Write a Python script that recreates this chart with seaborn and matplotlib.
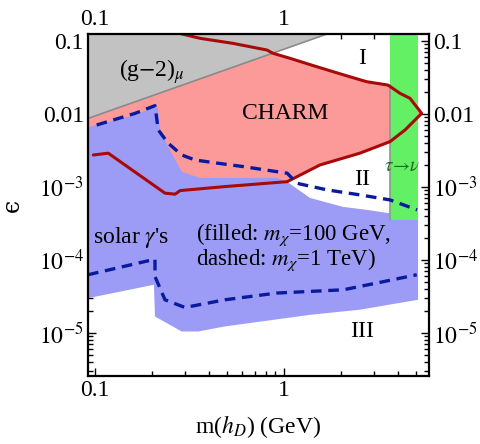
import numpy as np
import pandas as pd
import matplotlib
matplotlib.use("Agg")
import matplotlib.pyplot as plt
import seaborn as sns

# ---------------- data ----------------
# CHARM exclusion contour (dark red), lower branch then upper branch
charm_x = [0.098, 0.1175, 0.2346, 0.265, 0.282, 0.487, 1.04, 1.55, 2.52, 3.64, 4.37, 5.35,
           4.64, 4.11, 3.55, 2.74, 2.23, 1.49, 1.076, 0.875, 0.813, 0.537, 0.36, 0.282, 0.25]
charm_y = [2.74e-3, 2.90e-3, 8.2e-4, 7.95e-4, 8.9e-4, 1.01e-3, 1.18e-3, 2.0e-3, 2.9e-3, 4.18e-3, 6.04e-3, 0.0102,
           0.0164, 0.0192, 0.0249, 0.0277, 0.0324, 0.0445, 0.058, 0.0679, 0.0753, 0.093, 0.109, 0.127, 0.135]
# points closing the CHARM region outside the view
charm_close_x = [0.2, 0.09, 0.09]
charm_close_y = [0.2, 0.2, 2.74e-3]

# (g-2)_mu boundary line
g2_x = [0.09, 2.0]
g2_y = [0.00853, 0.146]
g2_top = 0.2

# solar gamma's, m_chi = 100 GeV (filled region)
solar_x = [0.0918, 0.163, 0.2076, 0.215, 0.221, 0.249, 0.289, 0.36, 0.918, 1.04, 1.373, 2.05, 2.75, 3.51, 5.12,
           5.12, 2.52, 1.373, 0.487, 0.351, 0.2875, 0.2076, 0.205, 0.0918]
solar_y = [6.6e-3, 9.7e-3, 0.0125, 0.012, 6.0e-3, 3.2e-3, 1.6e-3, 1.33e-3, 1.33e-3, 1.17e-3, 7.06e-4, 5.32e-4, 4.84e-4, 4.4e-4, 4.13e-4,
           2.83e-5, 2.07e-5, 1.76e-5, 1.22e-5, 1.04e-5, 1.04e-5, 1.67e-5, 4.55e-5, 2.98e-5]

# m_chi = 1 TeV (dashed), upper and lower curves
dash_up_x = [0.102, 0.163, 0.2076, 0.216, 0.244, 0.2875, 0.338, 0.448, 0.607, 1.04, 1.17, 1.69, 2.52, 3.64, 5.06]
dash_up_y = [7.06e-3, 0.0102, 0.0130, 6.04e-3, 3.97e-3, 2.74e-3, 2.34e-3, 2.11e-3, 1.90e-3, 1.54e-3, 1.12e-3, 9.1e-4, 7.77e-4, 6.63e-4, 4.84e-4]
dash_lo_x = [0.0918, 0.2076, 0.2076, 0.2346, 0.299, 0.487, 0.915, 2.06, 3.09, 5.04]
dash_lo_y = [6.24e-5, 1.02e-4, 5.9e-5, 2.83e-5, 2.22e-5, 2.83e-5, 3.5e-5, 3.88e-5, 4.8e-5, 6.24e-5]

# tau -> nu band
tau_x = [3.64, 5.12]
tau_ybot = 3.5e-4
tau_ytop = 0.2
tau_edge_y = [0.0249, 3.5e-4]

xticks = [0.1, 1]
xticklabels = ["0.1", "1"]
yticks = [0.1, 0.01, 1e-3, 1e-4, 1e-5]
yticklabels = ["0.1", "0.01", r"$10^{-3}$", r"$10^{-4}$", r"$10^{-5}$"]
xlim = (0.0918, 5.85)
ylim = (2.55e-6, 0.125)

# ---------------- style ----------------
sns.set_theme(style="ticks")
plt.rcParams["font.family"] = ["Liberation Serif", "DejaVu Serif"]
plt.rcParams["mathtext.fontset"] = "stix"
for key in ["text.color", "axes.labelcolor", "xtick.color", "ytick.color", "xtick.labelcolor", "ytick.labelcolor"]:
    plt.rcParams[key] = "black"

fig = plt.figure(figsize=(4.81, 4.44), dpi=100)
ax = fig.add_axes([88 / 481, 1 - 376 / 444, 341 / 481, 342 / 444])
ax.set_xscale("log")
ax.set_yscale("log")
ax.set_xlim(*xlim)
ax.set_ylim(*ylim)

red_fill = "#FC9A9A"
gray_fill = "#C2C2C2"
blue_fill = "#9C9CF7"
green_fill = "#64F064"
dark_red = "#A80A0A"
navy = "#0A1A9C"


def line(xs, ys, **kw):
    df = pd.DataFrame({"x": xs, "y": ys})
    sns.lineplot(data=df, x="x", y="y", ax=ax, sort=False, estimator=None, legend=False, **kw)


# CHARM fill
ax.fill(list(charm_x) + charm_close_x, list(charm_y) + charm_close_y, color=red_fill, lw=0, zorder=1)
# (g-2) fill
ax.fill([g2_x[0], g2_x[1], g2_x[1], g2_x[0]], [g2_y[0], g2_y[1], g2_top, g2_top],
        color=gray_fill, lw=0, zorder=2)
line(g2_x, g2_y, color="#8A8A8A", lw=1.2, zorder=2.1)
# solar gamma's filled
ax.fill(solar_x, solar_y, color=blue_fill, lw=0, zorder=3)
# tau -> nu band
ax.fill_between(tau_x, [tau_ybot] * 2, [tau_ytop] * 2, color=green_fill, lw=0, zorder=4)
line([tau_x[0]] * 2, tau_edge_y, color="#8A9A8A", lw=1.2, zorder=4.1)

# CHARM contour
line(charm_x, charm_y, color=dark_red, lw=2.2, zorder=5)
# dashed 1 TeV curves
for xs, ys in [(dash_up_x, dash_up_y), (dash_lo_x, dash_lo_y)]:
    line(xs, ys, color=navy, lw=2.4, zorder=6, linestyle=(0, (3.2, 2.0)))

# texts
fs = 17
ax.text(0.2, 0.0376, r"(g$-$2)$_\mu$", fontsize=fs, ha="center", va="center", zorder=7)
ax.text(1.01, 0.01, "CHARM", fontsize=fs, ha="center", va="center", zorder=7)
ax.text(2.59, 0.0585, "I", fontsize=fs, ha="center", va="center", zorder=7)
ax.text(2.59, 1.25e-3, "II", fontsize=fs, ha="center", va="center", zorder=7)
ax.text(2.59, 1.03e-5, "III", fontsize=fs, ha="center", va="center", zorder=7)
ax.text(0.0975, 2.0e-4, r"solar $\gamma$'s", fontsize=fs, ha="left", va="center", zorder=7)
ax.text(0.342, 1.48e-4, "(filled: $m_\\chi$=100 GeV,\ndashed: $m_\\chi$=1 TeV)", fontsize=16.5,
        ha="left", va="center", linespacing=0.95, zorder=7)
ax.text(4.2, 1.88e-3, r"$\tau\!\rightarrow\!\nu$", fontsize=13.5, color="#1E6E1E",
        ha="center", va="center", zorder=7)

# axes / ticks
ax.set_xticks(xticks)
ax.set_xticklabels(xticklabels)
ax.set_yticks(yticks)
ax.set_yticklabels(yticklabels)
ax.tick_params(which="both", direction="in", top=True, right=True, labeltop=True, labelright=True,
               labelsize=fs, color="black", labelcolor="black", width=1.0, pad=3)
ax.tick_params(which="major", length=6)
ax.tick_params(which="minor", length=3.5)
for s in ax.spines.values():
    s.set_linewidth(1.6)
    s.set_color("black")
    s.set_zorder(10)

ax.set_xlabel(r"m($h_D$) (GeV)", fontsize=fs, va="center", color="black")
ax.xaxis.set_label_coords(0.5, (376 - 427) / 342)
ax.set_ylabel("\u03f5", fontsize=fs, va="center", family=["DejaVu Serif"], color="black")
ax.yaxis.set_label_coords((12 - 88) / 341, (376 - 205) / 342)

fig.savefig("out.png", dpi=100)
